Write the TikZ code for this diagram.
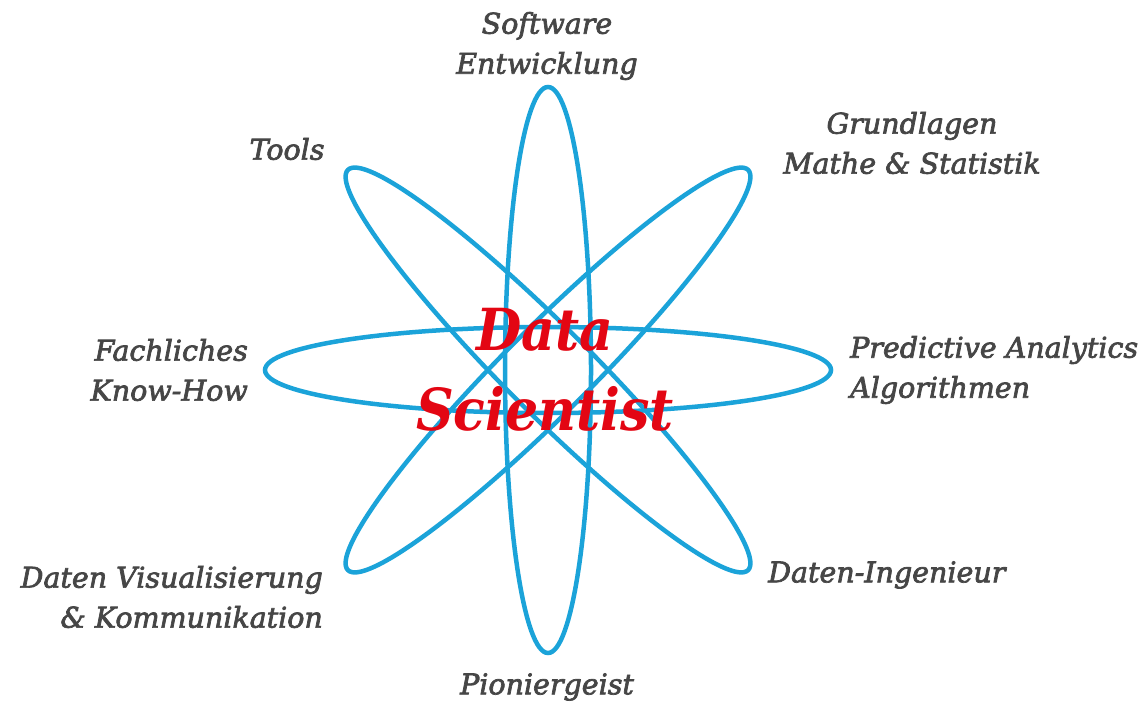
\documentclass[tikz,border=0pt]{standalone}
\usepackage{fontspec}
\setmainfont{DejaVu Serif}
\newfontfamily\labfont[ItalicFeatures={FakeBold=2.5},FakeBold=2.5]{DejaVu Serif}
\newfontfamily\titlefont{DejaVu Serif Condensed}
\definecolor{orbit}{HTML}{1BA3D9}
\definecolor{labgray}{HTML}{464646}
\definecolor{dsred}{HTML}{E30613}
\begin{document}
\begin{tikzpicture}[x=1pt,y=-1pt,
  orbitline/.style={draw=orbit,line width=4.5pt},
  lab/.style={font=\labfont\itshape\fontsize{28.5}{40}\selectfont,text=labgray,inner sep=0pt},
  title/.style={font=\titlefont\bfseries\itshape\fontsize{58}{80}\selectfont,text=dsred,inner sep=0pt,align=center}]
\useasboundingbox (0,0) rectangle (1148,703);
\coordinate (c) at (548,370);
\foreach \a in {0,45,90,135}{
  \draw[orbitline,rotate around={\a:(c)}] (c) ellipse [x radius=283pt,y radius=43pt];
}
\node[title] (ds) at (545,370) {Data\\Scientist};
\node[lab,align=center] (sw) at (547,46) {Software\\Entwicklung};
\node[lab] (tools) at (287,149) {Tools};
\node[lab,align=center] (gm) at (912,143) {Grundlagen\\Mathe \& Statistik};
\node[lab,align=right,anchor=east] (fk) at (248,370) {Fachliches\\Know-How};
\node[lab,align=left,anchor=west] (pa) at (850,370) {Predictive Analytics\\Algorithmen};
\node[lab,align=right,anchor=east] (dv) at (323,597) {Daten Visualisierung\\\& Kommunikation};
\node[lab,anchor=west] (di) at (768,575) {Daten-Ingenieur};
\node[lab] (pg) at (547,687) {Pioniergeist};
\end{tikzpicture}
\end{document}
